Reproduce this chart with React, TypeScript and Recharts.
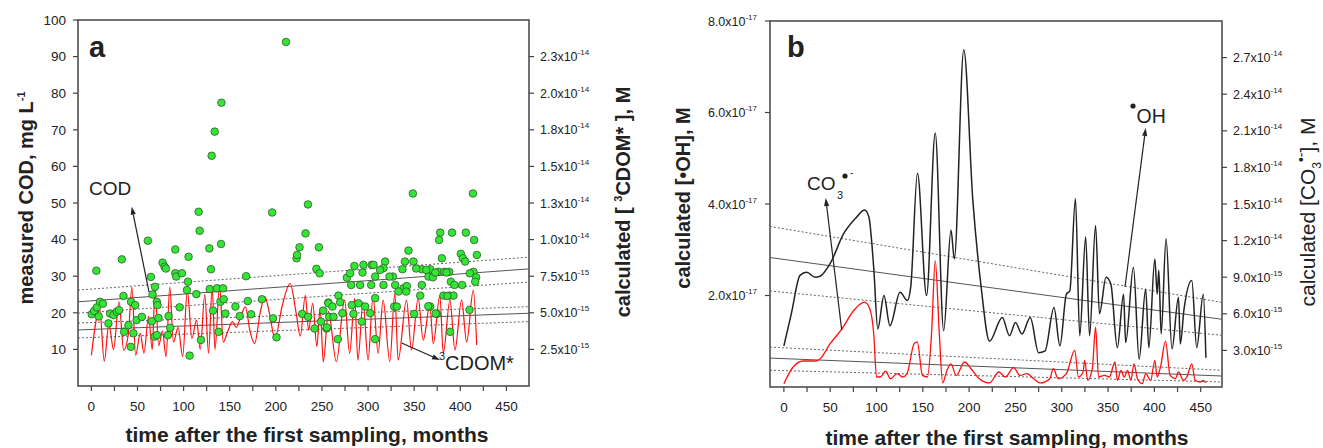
import React from "react";
import {
  ComposedChart,
  Line,
  ReferenceArea,
  Scatter,
  XAxis,
  YAxis,
} from "recharts";

const FONT = '"Liberation Sans", Arial, Helvetica, sans-serif';
const INK = "#222";
const FRAME = "#444";
const GREEN = "#33e633";
const RED = "#ff1010";

// months after the first sampling
const monthTicks = [
  0, 25, 50, 75, 100, 125, 150, 175, 200, 225, 250, 275, 300, 325, 350, 375,
  400, 425, 450,
];
const codTicks = [10, 20, 30, 40, 50, 60, 70, 80, 90, 100];
// 3CDOM*, in 1e-15 M
const cdomTicks = [2.5, 5, 7.5, 10, 12.5, 15, 17.5, 20, 22.5];
// •OH, in 1e-17 M
const ohTicks = [2, 4, 6, 8];
// CO3•-, in 1e-15 M
const co3Ticks = [3, 6, 9, 12, 15, 18, 21, 24, 27];

const domainA: [number, number] = [-14.5, 474.5];
const domainB: [number, number] = [-15, 473];

type Pt = [number, number];

// panel a: measured COD, mg/L
const codMeasured: Pt[] = [
  [0.4, 19.6], [5.4, 31.5], [3, 20.5], [6, 21.5], [8, 19], [9.4, 23], [12.5, 22.5],
  [18.5, 17.1], [20.3, 19.8], [24, 19.4], [27.5, 20.3], [30, 20.7], [33, 34.6],
  [34.8, 24.6], [35.5, 14.8], [40.2, 16.6], [42.8, 10.7], [43, 23], [45.6, 14.4],
  [47.5, 22.1], [49, 18], [54.7, 18.9], [61.2, 39.7], [64.5, 29.8], [65.6, 17.7],
  [66.3, 25], [68.5, 13.5], [69, 27.1], [71, 23], [71.7, 22.1], [72.8, 18.6],
  [71, 13.9], [77.2, 33.7], [79.3, 32.6], [80.8, 32.1], [83, 13.9], [83.7, 19.1],
  [85.5, 15.9], [91, 37.3], [91, 30.8], [92, 29.9], [95.7, 21.5], [98.2, 30.8],
  [103.6, 26.2], [104.7, 28.5], [105.4, 35.3], [106.5, 8.3], [113.8, 25.1],
  [116.3, 47.6], [117.4, 42.4], [118.8, 12.6], [127.9, 37.6], [129.7, 31.9],
  [128.3, 26.5], [130.4, 62.9], [133.7, 69.5], [131.9, 20.6], [136.2, 26.7],
  [138, 14.8], [139.9, 23], [140.6, 38.8], [141, 77.4], [142.8, 26.7], [143.5, 23.7],
  [145.3, 19.8], [156.2, 21.7], [160.9, 19.1], [167.8, 30], [169.6, 23.2],
  [173.2, 19.6], [185, 23.7], [196, 47.4], [197, 18.5], [200.7, 13.3], [211, 94],
  [222.5, 34.9], [223, 35.8], [225.7, 37.9], [228.6, 19.7], [232.2, 41.7],
  [234.8, 49.6], [235, 18.9], [242, 15.7], [246.7, 37.9], [244, 32], [247.5, 30.8],
  [249, 17.6], [251.4, 20.6], [256.9, 22.8], [255, 15.7],
  [257, 22.6], [261.4, 21.7], [267.9, 24.7], [269.7, 22.9], [255.3, 16],
  [257.8, 18.9], [262.5, 18.9], [267.2, 12.8], [272.2, 19.9], [277, 29.6],
  [280.6, 30.8], [285.2, 32.8], [295, 33.1], [304, 33.1], [281.7, 27.6],
  [291.4, 27.6], [294, 31], [303.4, 27.6], [282.4, 22.1], [289.6, 22.6],
  [296.9, 21.7], [284.2, 19.7], [293.2, 17.6], [302.3, 19.9],
  [348.6, 52.6], [413.7, 52.6], [378.2, 41.9], [391, 41.9], [406, 41.9], [377, 39.9],
  [415, 39.9], [343.8, 37], [380, 34.9], [418, 35.8], [400.6, 36.1], [402.8, 34.9],
  [405.3, 34], [305.9, 33.1], [318.5, 34], [316.7, 32.2], [313, 31.7], [340, 34],
  [349.2, 34], [337.3, 31.9], [358.3, 31.9], [367.4, 31.9], [376.4, 31.2],
  [382.5, 31.2], [388, 31.2], [414.3, 31.2], [365.5, 29.9], [370.3, 29.7],
  [326.9, 29.9], [307.7, 29.9], [417.2, 29.7], [389.8, 28.5], [393.7, 27.6],
  [402, 27.6], [416.2, 28.5], [316.7, 27.6], [329.4, 27.6], [338.4, 26.7],
  [342, 27.3], [358.3, 27.6], [333, 25.8], [341.3, 25.8], [356.5, 24.7],
  [381.8, 24.7], [388.3, 24.7], [392.6, 24.7], [307.7, 24], [328.3, 21.7],
  [331.2, 21.7], [367.4, 21.7], [410, 20.8], [350, 19.7], [374.6, 19.7], [389, 14.8],
  [307.7, 12.8], [323.2, 29.9], [352.2, 32.1], [363.2, 31.7], [373, 31], [385, 31],
  [410.3, 30.8], [386, 24.6], [365.3, 21.8], [373.3, 19.8],
];

// panel a: calculated 3CDOM*, 1e-15 M
const cdomCalc: Pt[] = [
  [0, 2.1], [9, 5.25], [14, 1.7], [19, 4.25], [24, 2.5], [30, 5.75], [35, 2.45],
  [40, 3.5], [44, 6.75], [48, 2.1], [53, 3.6], [57, 2.25], [62, 4.75], [66, 2.5],
  [69, 6.6], [73, 2.75], [77, 3.75], [81, 2.0], [85, 6.75], [89, 3.0], [94, 4.0],
  [99, 2.0], [104, 6.5], [109, 3.25], [114, 4.5], [118, 2.5], [123, 6.25],
  [127, 2.25], [131, 6.75], [134, 2.5], [139, 6.9], [143, 3.0], [148, 3.75],
  [153, 4.4], [157, 4.0], [162, 4.75], [167, 5.4], [172, 3.75], [177, 2.9],
  [183, 5.0], [188, 6.1], [193, 5.0], [199, 3.25], [207, 5.5], [215.5, 7.0],
  [222, 5.0], [226.5, 3.4], [232, 6.2], [235.5, 3.8], [240, 5.65], [244.5, 2.7],
  [248, 5.3], [251.5, 1.65], [257, 5.1], [265.6, 1.66], [274.6, 5.86], [280, 2.23],
  [285.5, 5.98], [289, 1.77], [294.6, 5.75], [300, 1.77], [305.4, 6.09],
  [310.9, 2.23], [316.3, 5.86], [323.6, 1.66], [329, 6.32], [332.6, 1.77],
  [341.7, 5.86], [347.1, 2.45], [354.3, 5.98], [359.8, 3.14], [367, 5.52],
  [370.7, 2.9], [377.9, 6.2], [381.5, 2.23], [388.8, 5.86], [394.2, 2.45],
  [401.4, 5.86], [406.9, 3.0], [414.1, 6.55], [417.8, 2.8],
];

// panel a regressions (COD in mg/L, CDOM in 1e-15 M)
const codFit: Pt[] = [[-14.5, 23.0], [474.5, 32.0]];
const codFitHi: Pt[] = [[-14.5, 26.2], [474.5, 35.2]];
const codFitLo: Pt[] = [[-14.5, 19.9], [474.5, 28.4]];
const cdomFit: Pt[] = [[-14.5, 3.83], [474.5, 4.97]];
const cdomFitHi: Pt[] = [[-14.5, 4.3], [474.5, 5.42]];
const cdomFitLo: Pt[] = [[-14.5, 3.28], [474.5, 4.4]];

// panel b: calculated •OH, 1e-17 M
const ohCalc: Pt[] = [
  [0, 0.9], [8, 1.6], [17.4, 2.44], [24.6, 2.51], [33.7, 2.4], [39, 2.42], [50, 2.7],
  [64.5, 3.35], [78, 3.7], [87, 3.87], [91.7, 3.72], [97, 2.6], [101.4, 1.27],
  [108, 2.0], [114.5, 1.34], [125.4, 2.07], [133.3, 1.89], [137, 2.2], [144.2, 4.67],
  [154, 2.0], [163.4, 5.55], [172.5, 1.23], [180.4, 3.43], [184, 2.8], [194.2, 7.37],
  [204, 4.08], [213, 2.18], [222, 1.0], [235.8, 1.52], [243.6, 1.12], [250, 1.41],
  [257, 1.16], [266, 1.52], [275, 0.75], [282, 0.79], [291.6, 1.74], [298, 0.9],
  [305, 2.03], [308.7, 2.1], [314.8, 4.12], [319.4, 1.12], [325.8, 3.28], [330, 1.12],
  [336.5, 3.53], [340.7, 1.6], [347.8, 2.4], [353, 2.25], [360, 0.86], [366.7, 2.03],
  [369, 0.97], [377.4, 2.62], [383.5, 0.61], [390.6, 2.14], [394, 0.86], [400.5, 2.8],
  [403, 2.03], [404.8, 2.55], [407.3, 1.16], [412.6, 3.24], [419, 0.83], [426, 1.96],
  [428, 0.94], [432, 1.7], [440.4, 2.33], [445.7, 0.86], [452.8, 2.03], [455.6, 0.64],
];

// panel b: calculated CO3•-, 1e-15 M
const co3Calc: Pt[] = [
  [0, 0.27], [10, 1.64], [21, 2.13], [33.7, 2.13], [39, 2.3], [50, 3.55], [62.7, 4.77],
  [75.4, 6.27], [87, 6.95], [92.8, 6.4], [97, 4.36], [100, 0.82], [104, 0.82],
  [110, 1.3], [115, 0.68], [122.5, 1.1], [128, 0.82], [133, 1.1], [140.6, 3.55],
  [144, 3.7], [149.6, 0.95], [155, 0.82], [159.4, 4.36], [163.4, 10.36], [167.8, 4.36],
  [171.4, 0.33], [176, 1.36], [180.4, 1.9], [186, 0.95], [195, 2.05], [202, 1.5],
  [211, 0.68], [222, 0.33], [232, 1.23], [239, 0.82], [248, 1.58], [255, 0.95],
  [262.5, 1.1], [269.6, 0.68], [276.7, 0.33], [287, 0.68], [291, 1.5], [296, 0.68],
  [305, 1.1], [314, 3.0], [318, 0.82], [323, 1.23], [324.7, 2.18], [328, 0.55],
  [333, 1.5], [336.5, 4.9], [339.7, 0.82], [346, 0.95], [351.4, 0.82], [357.5, 2.05],
  [360, 0.55], [364, 1.36], [367.4, 0.82], [371, 1.36], [374.6, 0.55], [378, 1.9],
  [381.7, 0.68], [387, 0.27], [390.6, 1.1], [396, 0.55], [400.5, 2.18], [403, 0.82],
  [406.6, 1.64], [412, 3.76], [417, 0.95], [422.6, 0.68], [426, 1.23], [431.5, 0.55],
  [435, 0.82], [440.4, 1.9], [444, 0.55], [449.3, 0.41], [452.8, 0.55], [455.6, 0.33],
];

// panel b regressions (•OH in 1e-17 M, CO3 in 1e-15 M)
const ohFit: Pt[] = [[-15, 2.83], [473, 1.48]];
const ohFitHi: Pt[] = [[-15, 3.51], [473, 1.85]];
const ohFitLo: Pt[] = [[-15, 2.1], [473, 1.13]];
const co3Fit: Pt[] = [[-15, 2.37], [473, 0.9]];
const co3FitHi: Pt[] = [[-15, 3.27], [473, 1.37]];
const co3FitLo: Pt[] = [[-15, 1.37], [473, 0.41]];

const rows = (pts: Pt[]) => pts.map(([m, v]) => ({ m, v }));

const tickFont = { fontFamily: FONT, fontSize: 13.5, fill: INK };
const tickLine = { stroke: FRAME, strokeWidth: 1.2 };

function sciTick(exp: number) {
  return (props: any) => {
    const { x, y, payload, textAnchor } = props;
    let mant = payload.value;
    let e = exp;
    while (mant >= 10) {
      mant /= 10;
      e += 1;
    }
    return (
      <text
        x={x}
        y={y}
        dy={4.5}
        textAnchor={textAnchor}
        fontFamily={FONT}
        fontSize={12.5}
        fill={INK}
      >
        {mant.toFixed(1)}x10
        <tspan dy={-6} fontSize={8}>
          {e}
        </tspan>
      </text>
    );
  };
}

const monthLabel = (v: number) => (v % 50 === 0 ? String(v) : "");

function fitLine(id: string, pts: Pt[], dotted: boolean) {
  return (
    <Line
      yAxisId={id}
      data={rows(pts)}
      dataKey="v"
      type="linear"
      stroke={dotted ? "#666" : "#555"}
      strokeWidth={1}
      strokeDasharray={dotted ? "2 2" : undefined}
      dot={false}
      isAnimationActive={false}
    />
  );
}

function Arrow({ x1, y1, x2, y2 }: { x1: number; y1: number; x2: number; y2: number }) {
  const ang = Math.atan2(y2 - y1, x2 - x1);
  const len = 8;
  const half = 2.6;
  const bx = x2 - len * Math.cos(ang);
  const by = y2 - len * Math.sin(ang);
  const px = -Math.sin(ang) * half;
  const py = Math.cos(ang) * half;
  return (
    <g>
      <line x1={x1} y1={y1} x2={bx} y2={by} stroke={INK} strokeWidth={1.2} />
      <polygon
        points={`${x2},${y2} ${bx + px},${by + py} ${bx - px},${by - py}`}
        fill={INK}
      />
    </g>
  );
}

function PanelA() {
  return (
    <ComposedChart
      width={660}
      height={448}
      margin={{ top: 20, right: 51, bottom: 22, left: 18 }}
    >
      <XAxis
        type="number"
        dataKey="m"
        domain={domainA}
        ticks={monthTicks}
        interval={0}
        allowDataOverflow
        tickFormatter={monthLabel}
        tick={tickFont}
        tickSize={5}
        tickMargin={10}
        height={40}
        axisLine={false}
        tickLine={tickLine}
      />
      <YAxis
        yAxisId="l"
        type="number"
        dataKey="v"
        domain={[0, 100]}
        ticks={codTicks}
        interval={0}
        allowDataOverflow
        width={60}
        tick={tickFont}
        tickSize={5}
        tickMargin={7}
        axisLine={false}
        tickLine={tickLine}
      />
      <YAxis
        yAxisId="r"
        orientation="right"
        type="number"
        dataKey="v"
        domain={[0, 25]}
        ticks={cdomTicks}
        interval={0}
        allowDataOverflow
        width={80}
        tick={sciTick(-15)}
        tickSize={5}
        tickMargin={6}
        axisLine={false}
        tickLine={tickLine}
      />
      <ReferenceArea
        yAxisId="l"
        x1={domainA[0]}
        x2={domainA[1]}
        y1={0}
        y2={100}
        fill="none"
        stroke={FRAME}
        strokeWidth={1.5}
      />
      {fitLine("l", codFitHi, true)}
      {fitLine("l", codFitLo, true)}
      {fitLine("l", codFit, false)}
      {fitLine("r", cdomFitHi, true)}
      {fitLine("r", cdomFitLo, true)}
      {fitLine("r", cdomFit, false)}
      <Line
        yAxisId="r"
        data={rows(cdomCalc)}
        dataKey="v"
        type="monotone"
        stroke={RED}
        strokeWidth={1.2}
        dot={false}
        isAnimationActive={false}
      />
      <Scatter
        yAxisId="l"
        data={rows(codMeasured)}
        dataKey="v"
        isAnimationActive={false}
        shape={(p: any) => (
          <circle cx={p.cx} cy={p.cy} r={3.8} fill={GREEN} stroke="#2f5a2f" strokeWidth={0.8} />
        )}
      />
    </ComposedChart>
  );
}

function PanelB() {
  return (
    <ComposedChart
      width={663}
      height={448}
      margin={{ top: 21, right: 21, bottom: 21, left: 30 }}
    >
      <XAxis
        type="number"
        dataKey="m"
        domain={domainB}
        ticks={monthTicks}
        interval={0}
        allowDataOverflow
        tickFormatter={monthLabel}
        tick={tickFont}
        tickSize={5}
        tickMargin={10}
        height={40}
        axisLine={false}
        tickLine={tickLine}
      />
      <YAxis
        yAxisId="l"
        type="number"
        dataKey="v"
        domain={[0, 8]}
        ticks={ohTicks}
        interval={0}
        allowDataOverflow
        width={80}
        tick={sciTick(-17)}
        tickSize={5}
        tickMargin={8}
        axisLine={false}
        tickLine={tickLine}
      />
      <YAxis
        yAxisId="r"
        orientation="right"
        type="number"
        dataKey="v"
        domain={[0, 30]}
        ticks={co3Ticks}
        interval={0}
        allowDataOverflow
        width={80}
        tick={sciTick(-15)}
        tickSize={5}
        tickMargin={6}
        axisLine={false}
        tickLine={tickLine}
      />
      <ReferenceArea
        yAxisId="l"
        x1={domainB[0]}
        x2={domainB[1]}
        y1={0}
        y2={8}
        fill="none"
        stroke={FRAME}
        strokeWidth={1.5}
      />
      {fitLine("l", ohFitHi, true)}
      {fitLine("l", ohFitLo, true)}
      {fitLine("l", ohFit, false)}
      {fitLine("r", co3FitHi, true)}
      {fitLine("r", co3FitLo, true)}
      {fitLine("r", co3Fit, false)}
      <Line
        yAxisId="l"
        data={rows(ohCalc)}
        dataKey="v"
        type="monotone"
        stroke="#222"
        strokeWidth={1.5}
        dot={false}
        isAnimationActive={false}
      />
      <Line
        yAxisId="r"
        data={rows(co3Calc)}
        dataKey="v"
        type="monotone"
        stroke={RED}
        strokeWidth={1.3}
        dot={false}
        isAnimationActive={false}
      />
    </ComposedChart>
  );
}

function Overlay() {
  const t = { fontFamily: FONT, fill: INK };
  return (
    <svg
      width={1323}
      height={448}
      style={{ position: "absolute", left: 0, top: 0, pointerEvents: "none" }}
    >
      <text x={89} y={57} fontSize={29} fontWeight="bold" {...t}>a</text>
      <text x={787} y={57} fontSize={29} fontWeight="bold" {...t}>b</text>

      <text transform="translate(33,198) rotate(-90)" textAnchor="middle" fontSize={20} fontWeight="bold" {...t}>
        measured COD, mg L<tspan dy={-8} fontSize={11}>-1</tspan>
      </text>
      <text transform="translate(630,202) rotate(-90)" textAnchor="middle" fontSize={20} fontWeight="bold" {...t}>
        calculated [ <tspan dy={-8} fontSize={11}>3</tspan>
        <tspan dy={8}>CDOM* ], M</tspan>
      </text>
      <text x={307} y={442} textAnchor="middle" fontSize={21} fontWeight="bold" {...t}>
        time after the first sampling, months
      </text>

      <text transform="translate(690,198) rotate(-90)" textAnchor="middle" fontSize={20} fontWeight="bold" {...t}>
        calculated [•OH], M
      </text>
      <text transform="translate(1315,212) rotate(-90)" textAnchor="middle" fontSize={21} {...t}>
        calculated [CO<tspan dy={6} fontSize={12}>3</tspan>
        <tspan dy={-15} fontSize={14}>•-</tspan>
        <tspan dy={9}>], M</tspan>
      </text>
      <text x={1007} y={445} textAnchor="middle" fontSize={21} fontWeight="bold" {...t}>
        time after the first sampling, months
      </text>

      <text x={89} y={195} fontSize={19} {...t}>COD</text>
      <Arrow x1={149} y1={292} x2={131.7} y2={206.7} />

      <text x={439} y={360} fontSize={11} {...t}>3</text>
      <text x={445} y={370} fontSize={20} {...t}>CDOM*</text>
      <Arrow x1={401.7} y1={343} x2={440} y2={360} />

      <text x={807} y={190} fontSize={19} {...t}>CO</text>
      <text x={837} y={199} fontSize={11} {...t}>3</text>
      <circle cx={845} cy={176} r={2.6} fill={INK} />
      <text x={850} y={176} fontSize={10} {...t}>-</text>
      <Arrow x1={841.7} y1={330} x2={825.7} y2={198} />

      <circle cx={1133} cy={106} r={2.6} fill={INK} />
      <text x={1136.5} y={123} fontSize={19.5} {...t}>OH</text>
      <Arrow x1={1125} y1={287} x2={1145.7} y2={128} />
    </svg>
  );
}

export default function App() {
  return (
    <div
      style={{
        position: "absolute",
        left: 0,
        top: 0,
        width: 1323,
        height: 448,
        background: "#fff",
        overflow: "hidden",
      }}
    >
      <div style={{ position: "absolute", left: 0, top: 0 }}>
        <PanelA />
      </div>
      <div style={{ position: "absolute", left: 660, top: 0 }}>
        <PanelB />
      </div>
      <Overlay />
    </div>
  );
}
